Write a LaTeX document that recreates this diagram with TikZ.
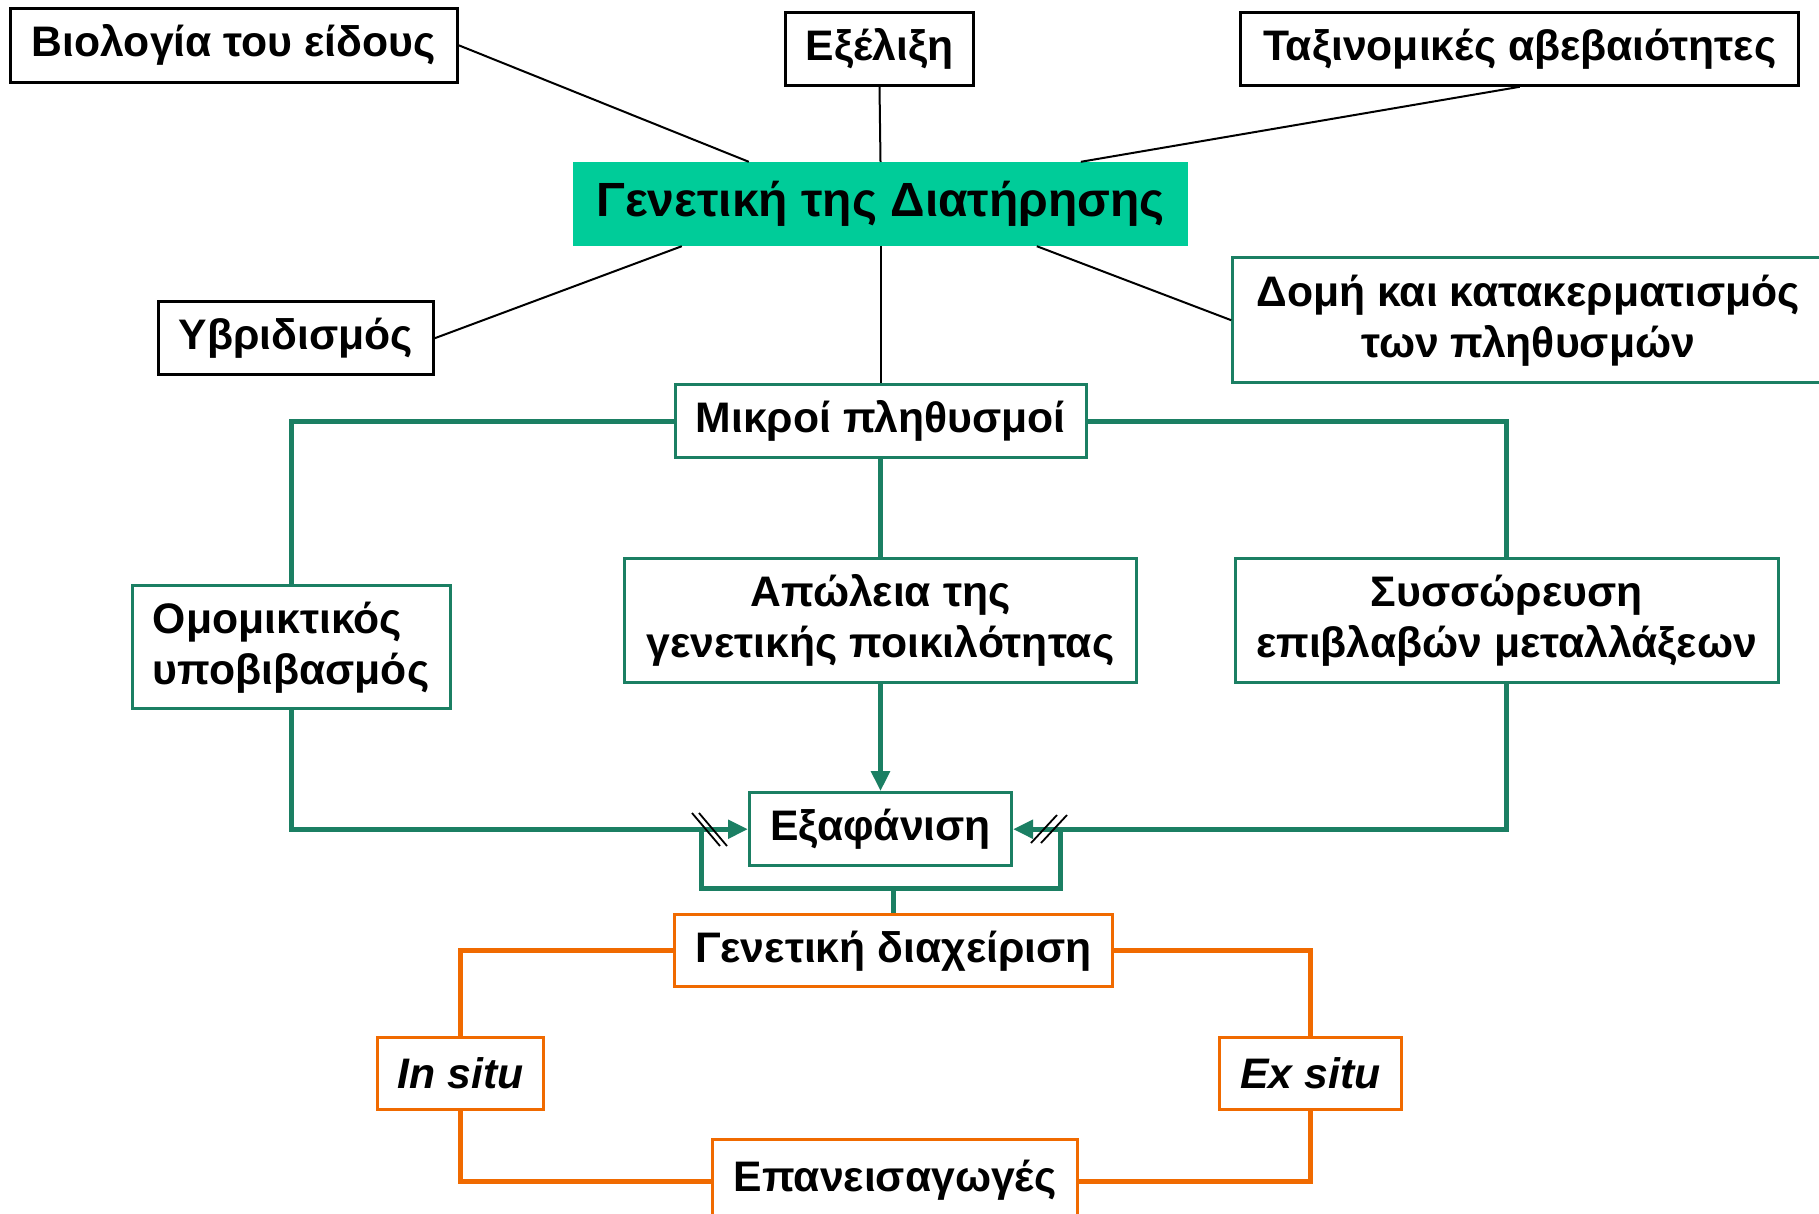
\documentclass[tikz,border=0pt]{standalone}
\usepackage{fontspec}
\setmainfont{Liberation Sans}
\usetikzlibrary{positioning,arrows.meta}
\definecolor{consGreen}{HTML}{00CC99}
\definecolor{lineGreen}{HTML}{1B7F63}
\definecolor{mgmtOrange}{HTML}{F06A00}
\tikzset{
  topic/.style={rectangle,draw=black,line width=3pt,fill=white,
    minimum height=73pt,align=center,inner sep=4pt,
    font=\fontsize{42.7}{51}\selectfont\bfseries},
  mainbox/.style={rectangle,fill=consGreen,minimum width=615pt,
    minimum height=84pt,font=\fontsize{48}{56}\selectfont\bfseries},
  gbox/.style={topic,draw=lineGreen},
  obox/.style={topic,draw=mgmtOrange},
  link/.style={line width=2pt},
  gline/.style={draw=lineGreen,line width=5pt},
  garrow/.style={gline,-{Triangle[length=20pt,width=18pt]}},
  oline/.style={draw=mgmtOrange,line width=4.5pt},
  slash/.style={line width=1.8pt}
}
\begin{document}
\begin{tikzpicture}[x=1pt,y=-1pt]
\useasboundingbox (0,0) rectangle (1819,1213);
\node[mainbox] (main) at (880.5,204) {Γενετική της Διατήρησης};
\node[topic, minimum width=447pt, minimum height=74pt, above left=78pt and 114pt of main] (bio) {Βιολογία του είδους};
\node[topic, minimum width=188pt, above=75pt of main, xshift=-1pt] (evol) {Εξέλιξη};
\node[topic, minimum width=558pt, above right=75pt and 51pt of main] (tax) {Ταξινομικές αβεβαιότητες};
\node[topic, minimum width=275pt, below left=54pt and 138pt of main] (hyb) {Υβριδισμός};
\node[gbox, minimum width=591pt, minimum height=125pt, below right=10pt and 43pt of main] (struct)
  {Δομή και κατακερματισμός\\των πληθυσμών};
\node[gbox, minimum width=411pt, below=137pt of main] (small) {Μικροί πληθυσμοί};
\node[gbox, minimum width=318pt, minimum height=123pt, align=left, below left=125pt and 222pt of small] (inbr)
  {Ομομικτικός\\υποβιβασμός};
\node[gbox, minimum width=512pt, minimum height=124pt, below=98pt of small] (loss)
  {Απώλεια της\\γενετικής ποικιλότητας};
\node[gbox, minimum width=543pt, minimum height=124pt, below right=98pt and 146pt of small] (accum)
  {Συσσώρευση\\επιβλαβών μεταλλάξεων};
\node[gbox, minimum width=262pt, below=107pt of loss] (ext) {Εξαφάνιση};
\node[obox, minimum width=438pt, minimum height=72pt, below=46pt of ext, xshift=13pt] (mgmt) {Γενετική διαχείριση};
\node[obox, minimum width=166pt, minimum height=72pt, below left=48pt and 128pt of mgmt] (insitu) {\textit{In situ}};
\node[obox, minimum width=182pt, minimum height=72pt, below right=48pt and 104pt of mgmt] (exsitu) {\textit{Ex situ}};
\node[obox, minimum width=365pt, minimum height=80pt, below=150pt of mgmt, xshift=1.5pt] (reintro) {Επανεισαγωγές};

\draw[link] (bio.east) -- ([xshift=176pt]main.north west);
\draw[link] (evol.south) -- (main.north);
\draw[link] (tax.south) -- ([xshift=508pt]main.north west);
\draw[link] (hyb.east) -- ([xshift=109pt]main.south west);
\draw[link] (struct.west) -- ([xshift=464pt]main.south west);
\draw[link] (main.south) -- (small.north);

\draw[gline] (small.west) -| (inbr.north);
\draw[gline] (small.east) -| (accum.north);
\draw[gline] (small.south) -- (loss.north);
\draw[garrow] (loss.south) -- (ext.north);
\draw[garrow] (inbr.south) |- (ext.west);
\draw[garrow] (accum.south) |- (ext.east);
% bracket under Εξαφάνιση
\coordinate (brl) at ([xshift=-47pt]ext.west);
\coordinate (brr) at ([xshift=47pt]ext.east);
\coordinate (brb) at ([yshift=-21pt]ext.south);
\draw[gline] (brl) |- (brb) -| (brr);
\draw[gline] (brb -| mgmt.north) -- (mgmt.north);
\foreach \d in {0,7} \draw[slash] (692+\d,813) -- ++(28,33);
\foreach \d in {0,10} \draw[slash] (1057+\d,815) -- ++(-26,28);

\draw[oline] (mgmt.west) -| (insitu.north);
\draw[oline] (mgmt.east) -| (exsitu.north);
\draw[oline] (insitu.south) |- ([yshift=-2pt]reintro.west);
\draw[oline] (exsitu.south) |- ([yshift=-2pt]reintro.east);
\end{tikzpicture}
\end{document}
